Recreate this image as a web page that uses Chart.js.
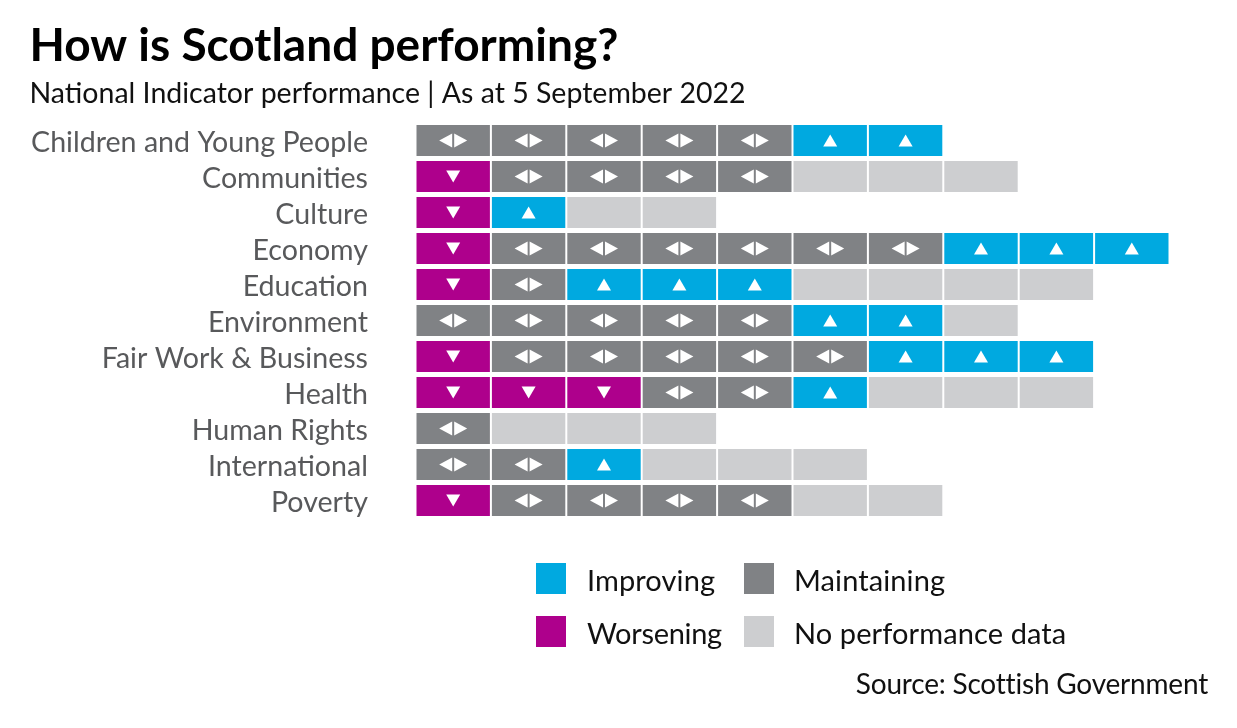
<!DOCTYPE html>
<html><head><meta charset="utf-8">
<script src="https://cdn.jsdelivr.net/npm/chart.js@4"></script>
<style>
html,body{margin:0;padding:0;background:#fff;width:1237px;height:728px;overflow:hidden}
#wrap{position:relative;width:1237px;height:728px;font-family:Lato,sans-serif}
canvas{position:absolute;left:0;top:0}
.sw{position:absolute;width:30px;height:31px}
.t{position:absolute;font-size:29px;line-height:34px;color:#111;white-space:nowrap;letter-spacing:.1px}
</style></head><body><div id="wrap"><canvas id="c" width="1237" height="728"></canvas>
<div class="sw" style="left:536px;top:563px;background:#00a9e0"></div><div class="t" style="left:587px;top:563px">Improving</div>
<div class="sw" style="left:744px;top:563px;background:#808285"></div><div class="t" style="left:794px;top:563px">Maintaining</div>
<div class="sw" style="left:536px;top:616px;background:#ae008c"></div><div class="t" style="left:587px;top:616px;letter-spacing:-.3px">Worsening</div>
<div class="sw" style="left:744px;top:616px;background:#cdced0"></div><div class="t" style="left:794px;top:616px">No performance data</div>
<div class="t" style="right:29px;top:666px;font-size:28px;letter-spacing:-.2px">Source: Scottish Government</div>
</div>
<script>
const categories=["Children and Young People","Communities","Culture","Economy","Education","Environment","Fair Work & Business","Health","Human Rights","International","Poverty"];
const worsening=[0,1,1,1,1,0,1,3,0,0,1];
const maintaining=[5,4,0,6,1,5,5,2,1,2,4];
const improving=[2,0,1,3,3,2,3,1,0,1,0];
const noData=[0,3,2,0,4,1,0,3,3,3,2];
const seriesDefs=[
 {key:"Worsening",counts:worsening,color:"#ae008c",mark:"down"},
 {key:"Maintaining",counts:maintaining,color:"#808285",mark:"both"},
 {key:"Improving",counts:improving,color:"#00a9e0",mark:"up"},
 {key:"No performance data",counts:noData,color:"#cdced0",mark:null}];
const datasets=[];
seriesDefs.forEach(s=>{
 const most=Math.max(...s.counts);
 for(let k=0;k<most;k++){
  datasets.push({label:s.key,mark:s.mark,data:s.counts.map(c=>c>k?1:null),backgroundColor:s.color,
   borderColor:"#fff",borderWidth:{left:1,right:1,top:0,bottom:0},borderSkipped:false,
   categoryPercentage:1,barPercentage:0.86});
 }
});
const markPlugin={id:"marks",afterDatasetsDraw(chart){
 const ctx=chart.ctx;ctx.save();ctx.fillStyle="#fff";
 const tri=(a,b,c,d,e,f)=>{ctx.beginPath();ctx.moveTo(a,b);ctx.lineTo(c,d);ctx.lineTo(e,f);ctx.closePath();ctx.fill();};
 chart.data.datasets.forEach((ds,i)=>{
  if(!ds.mark)return;
  chart.getDatasetMeta(i).data.forEach((el,j)=>{
   if(ds.data[j]==null)return;
   const cx=(el.x+el.base)/2,cy=el.y;
   if(ds.mark==="up")tri(cx-7,cy+6,cx+7,cy+6,cx,cy-6);
   else if(ds.mark==="down")tri(cx-7,cy-6,cx+7,cy-6,cx,cy+6);
   else{tri(cx-1,cy-7,cx-1,cy+7,cx-14,cy);tri(cx+1,cy-7,cx+1,cy+7,cx+14,cy);}
  });
 });
 ctx.restore();
}};
new Chart(document.getElementById("c"),{type:"bar",
 data:{labels:categories,datasets},
 plugins:[markPlugin],
 options:{indexAxis:"y",responsive:false,animation:false,
  layout:{padding:{left:29.5,right:67.5,top:19,bottom:209.5}},
  plugins:{legend:{display:false},tooltip:{enabled:false},
   title:{display:true,text:"How is Scotland performing?",align:"start",color:"#000",
    font:{family:"Lato",size:46,weight:"bold"},padding:{top:0,bottom:2.7}},
   subtitle:{display:true,text:"National Indicator performance | As at 5 September 2022",align:"start",color:"#111",
    font:{family:"Lato",size:28.5},padding:{top:0,bottom:11.4}}},
  scales:{
   x:{stacked:true,min:0,max:10,display:false},
   y:{stacked:true,grid:{display:false},border:{display:false},
    ticks:{color:"#58595b",font:{family:"Lato",size:28.6},padding:39.5,labelOffset:2.5,autoSkip:false},
    afterFit(s){s.width=386;}}
  }}});
</script></body></html>
